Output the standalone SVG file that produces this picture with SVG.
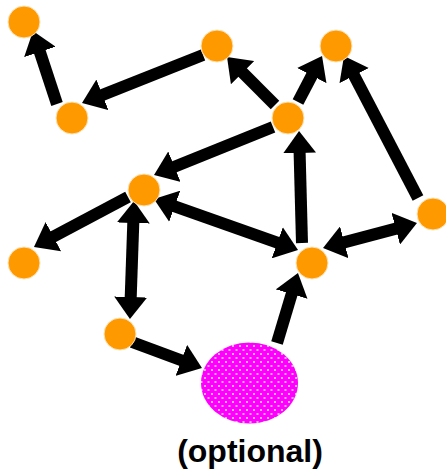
<svg xmlns="http://www.w3.org/2000/svg" width="446" height="472" viewBox="0 0 446 472">
  <style>
    .edge { fill: none; stroke: #000; stroke-width: 12; stroke-linecap: butt; }
    .one { marker-end: url(#head); }
    .two { marker-start: url(#head); marker-end: url(#head); }
    .node { fill: #ff9900; stroke: #ffe2b8; stroke-width: 1; }
    .label { font-family: "Liberation Sans", Arial, sans-serif; font-weight: bold; font-size: 32px; fill: #000; }
  </style>
  <defs>
    <marker id="head" viewBox="0 0 22 33" refX="12" refY="16.5" markerWidth="22" markerHeight="33" markerUnits="userSpaceOnUse" orient="auto-start-reverse">
      <path d="M0,0 L22,16.5 L0,33 z" fill="#000"/>
    </marker>
    <pattern id="dots" width="7" height="8" patternUnits="userSpaceOnUse">
      <rect width="7" height="8" fill="#ff00ff"/>
      <rect x="1" y="1" width="2" height="2" fill="#ffb3ff"/>
      <rect x="4.5" y="5" width="2" height="2" fill="#ffb3ff"/>
    </pattern>
  </defs>

  <rect width="446" height="472" fill="#fff"/>

  <g id="connectors">
    <path class="edge one" d="M57,104 L36.1,40.5"/>
    <path class="edge one" d="M203,55 L91.3,99.3"/>
    <path class="edge one" d="M275,105 L234.1,64.1"/>
    <path class="edge one" d="M298,102 L317.4,64.9"/>
    <path class="edge one" d="M418,198 L348.6,64.9"/>
    <path class="edge one" d="M302,243 L299.3,141"/>
    <path class="edge one" d="M273,127 L163.3,171.2"/>
    <path class="edge two" d="M163.4,202.3 L288.6,246.7"/>
    <path class="edge one" d="M128,197 L42.8,242.3"/>
    <path class="edge two" d="M133.7,211 L130.3,309"/>
    <path class="edge two" d="M332.7,245.4 L407.3,225.6"/>
    <path class="edge one" d="M132,342 L192.6,364.5"/>
    <path class="edge one" d="M277,343 L295.1,282.6"/>
  </g>

  <g id="n1"><circle class="node" cx="24" cy="22" r="16"/></g>
  <g id="n2"><circle class="node" cx="72" cy="118" r="16"/></g>
  <g id="n3"><circle class="node" cx="217" cy="46" r="16"/></g>
  <g id="n4"><circle class="node" cx="336" cy="46" r="16"/></g>
  <g id="n5"><circle class="node" cx="288" cy="118" r="16"/></g>
  <g id="n6"><circle class="node" cx="144" cy="190" r="16"/></g>
  <g id="n7"><circle class="node" cx="433" cy="214" r="16"/></g>
  <g id="n8"><circle class="node" cx="24" cy="263" r="16"/></g>
  <g id="n9"><circle class="node" cx="312" cy="263" r="16"/></g>
  <g id="n10"><circle class="node" cx="120" cy="334" r="16"/></g>
  <g id="optional">
    <ellipse cx="249.5" cy="383" rx="48.5" ry="40.5" fill="url(#dots)"/>
    <text class="label" x="250" y="462" text-anchor="middle">(optional)</text>
  </g>
</svg>
